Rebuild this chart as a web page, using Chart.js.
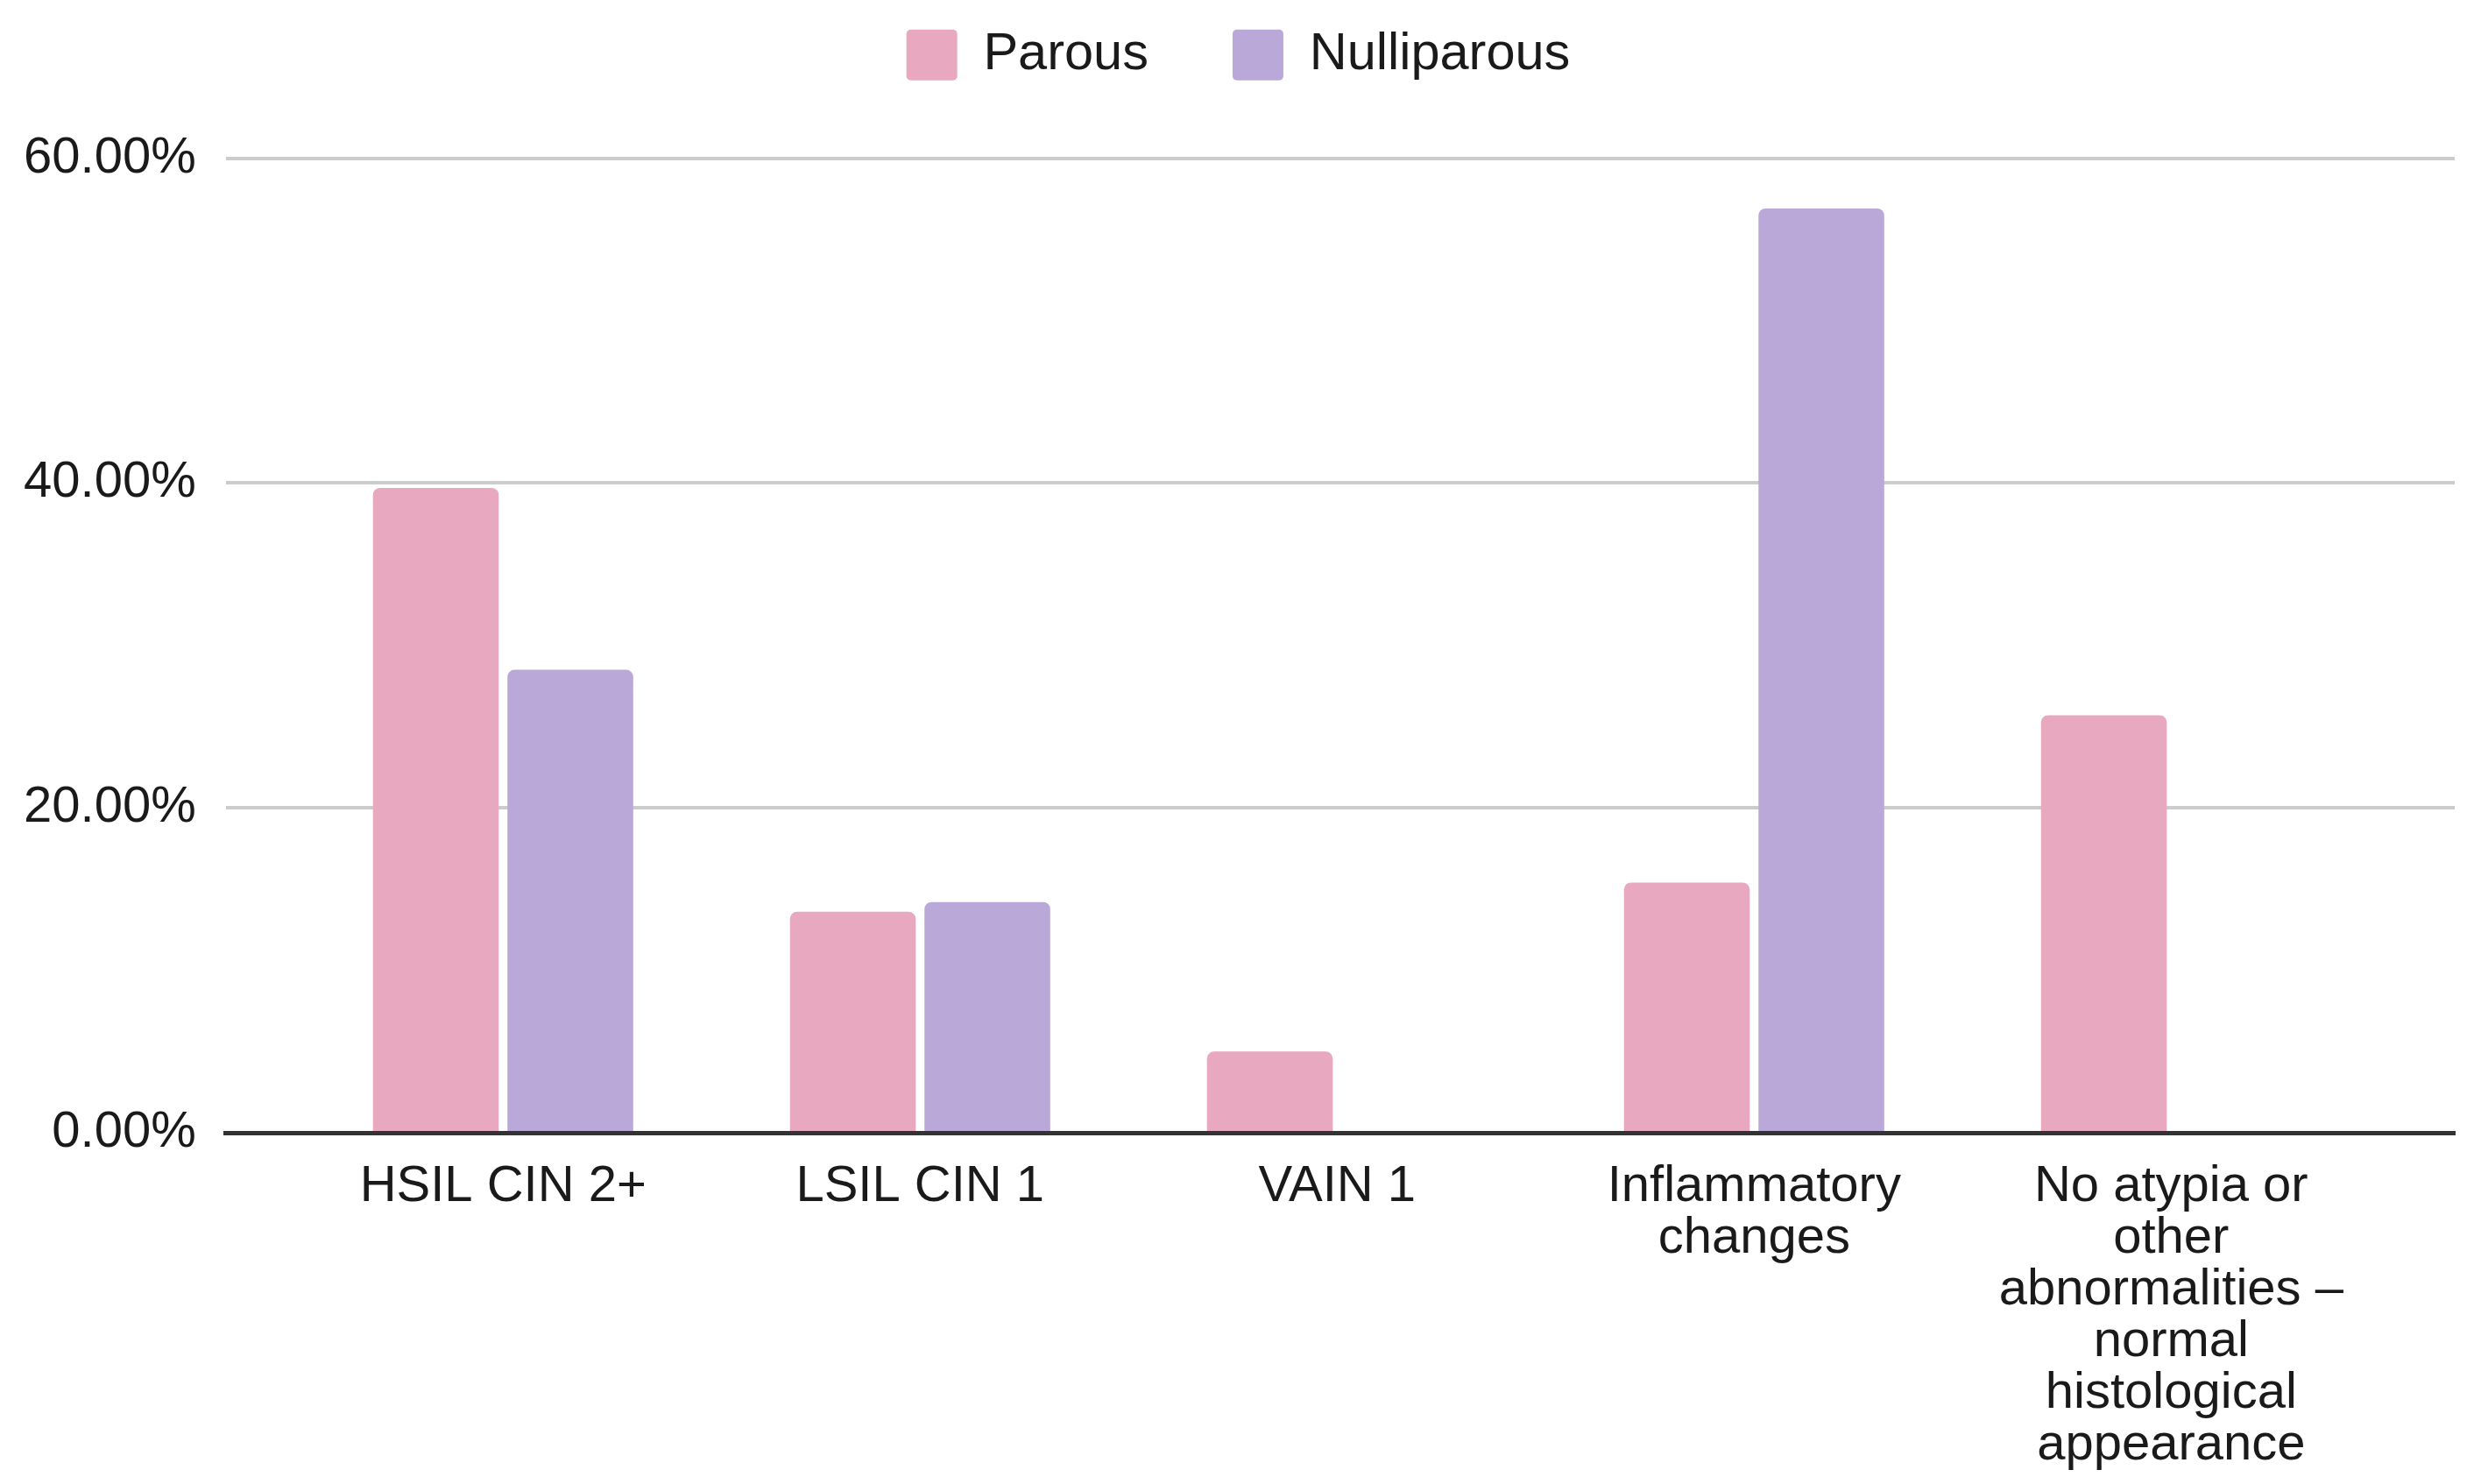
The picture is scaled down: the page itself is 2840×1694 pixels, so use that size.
<!DOCTYPE html>
<html>
<head>
<meta charset="utf-8">
<title>Parous vs Nulliparous</title>
<script src="https://cdn.jsdelivr.net/npm/chart.js@4/dist/chart.umd.min.js"></script>
<style>
    html, body { margin: 0; padding: 0; background: #ffffff; }
    #chart-wrap { width: 2840px; height: 1694px; position: relative; }
</style>
</head>
<body>
<div id="chart-wrap"><canvas id="results-chart"></canvas></div>
<script>
// Chart data
const categories = [
    ['HSIL CIN 2+'],
    ['LSIL CIN 1'],
    ['VAIN 1'],
    ['Inflammatory', 'changes'],
    ['No atypia or', 'other', 'abnormalities –', 'normal', 'histological', 'appearance']
];
const seriesNames = ['Parous', 'Nulliparous'];
const parous = [39.7, 13.6, 5.0, 15.4, 25.7];
const nulliparous = [28.5, 14.2, 0, 56.9, 0];
const yTicks = [0, 20, 40, 60];

const colors = { parous: '#e8a8c0', nulliparous: '#baa9d8', grid: '#cccccc', axis: '#333333', text: '#1a1a1a' };
const fontFamily = '"Liberation Sans", Arial, Helvetica, sans-serif';

// Push the plot area down below the legend and center legend on the page
const legendTweaks = {
    id: 'legendTweaks',
    beforeInit(chart) {
        const originalFit = chart.legend.fit;
        chart.legend.fit = function fit() {
            originalFit.bind(chart.legend)();
            this.height += 78;
        };
    },
    afterLayout(chart) {
        chart.legend.left += 16;
        chart.legend.right += 16;
    }
};

function toPoints(values) {
    return values.map((v, i) => ({ x: i, y: v }));
}

const ctx = document.getElementById('results-chart').getContext('2d');
new Chart(ctx, {
    type: 'bar',
    data: {
        datasets: [
            {
                label: seriesNames[0],
                data: toPoints(parous),
                backgroundColor: colors.parous,
                borderRadius: 8,
                borderSkipped: 'start',
                categoryPercentage: 0.645,
                barPercentage: 0.935
            },
            {
                label: seriesNames[1],
                data: toPoints(nulliparous),
                backgroundColor: colors.nulliparous,
                borderRadius: 8,
                borderSkipped: 'start',
                categoryPercentage: 0.645,
                barPercentage: 0.935
            }
        ]
    },
    options: {
        responsive: true,
        maintainAspectRatio: false,
        animation: false,
        layout: { padding: { top: -63, left: -7, right: 38, bottom: -18 } },
        plugins: {
            legend: {
                position: 'top',
                labels: {
                    boxWidth: 58,
                    boxHeight: 58,
                    padding: 96,
                    useBorderRadius: true,
                    borderRadius: 5,
                    color: colors.text,
                    font: { family: fontFamily, size: 59.5 }
                }
            },
            tooltip: { enabled: false }
        },
        scales: {
            x: {
                type: 'linear',
                offset: false,
                min: -0.665,
                max: 4.68,
                grid: { display: false, drawTicks: false },
                border: { display: true, color: colors.axis, width: 5 },
                afterBuildTicks: axis => {
                    axis.ticks = categories.map((c, i) => ({ value: i }));
                },
                ticks: {
                    autoSkip: false,
                    maxRotation: 0,
                    padding: 32,
                    color: colors.text,
                    font: { family: fontFamily, size: 58, lineHeight: 1.02 },
                    callback: value => categories[value] || ''
                }
            },
            y: {
                min: 0,
                max: 60,
                afterBuildTicks: axis => {
                    axis.ticks = yTicks.map(v => ({ value: v }));
                },
                grid: { color: colors.grid, lineWidth: 4, drawTicks: false },
                border: { display: false },
                ticks: {
                    padding: 34,
                    color: colors.text,
                    font: { family: fontFamily, size: 58 },
                    callback: value => value.toFixed(2) + '%'
                }
            }
        }
    },
    plugins: [legendTweaks]
});
</script>
</body>
</html>
